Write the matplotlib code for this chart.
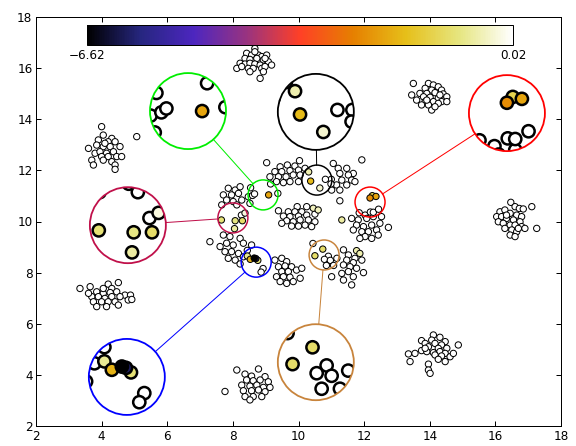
import numpy as np
import matplotlib
matplotlib.use("Agg")
import matplotlib.pyplot as plt
from matplotlib.patches import Circle, Ellipse
from matplotlib.lines import Line2D
from matplotlib.colors import Normalize
from matplotlib.cm import ScalarMappable

# ---------------- data ----------------
top_x = [8.67,8.42,8.57,8.78,8.88,9.03,8.37,8.52,8.73,8.93,9.08,8.22,8.37,8.52,8.67,8.83,9.18,8.12,8.27,8.47,8.62,8.88,8.98,8.52,8.93,8.83,8.67,8.98]
top_y = [16.77,16.58,16.51,16.51,16.45,16.51,16.38,16.34,16.38,16.32,16.25,16.19,16.16,16.19,16.16,16.12,16.12,15.99,16.06,15.99,15.99,15.99,16.06,15.86,15.86,15.60,16.64,16.38]

topright_x = [13.50,13.96,14.11,14.26,13.86,14.06,14.36,13.70,13.91,14.16,14.41,13.45,13.81,14.01,14.26,14.52,13.60,13.86,14.11,14.36,13.75,13.96,14.26,14.52,14.06,14.16,13.91,14.31]
topright_y = [15.40,15.40,15.34,15.27,15.21,15.14,15.14,15.01,15.01,15.04,14.99,14.95,14.88,14.86,14.82,14.88,14.75,14.69,14.69,14.69,14.56,14.56,14.62,14.69,14.36,14.49,14.75,14.95]

upleft_x = [4.00,4.05,4.31,3.90,4.20,4.41,3.60,3.85,4.05,4.26,4.56,3.80,3.95,4.15,4.36,4.00,4.20,4.46,4.61,3.70,4.05,4.31,3.75,4.41,4.41,4.10,5.07]
upleft_y = [13.71,13.38,13.25,13.19,13.12,13.12,12.86,12.99,12.93,12.93,12.93,12.67,12.73,12.67,12.73,12.54,12.54,12.54,12.54,12.40,12.40,12.34,12.21,12.21,12.04,13.06,13.32]

left_x = [3.34,3.65,4.20,4.51,4.31,3.85,4.05,4.26,4.46,4.71,4.88,3.70,3.90,4.10,4.31,4.56,4.81,3.75,4.00,4.20,4.41,3.85,4.15,4.51,4.92,4.05,3.60]
left_y = [7.38,7.45,7.55,7.61,7.38,7.25,7.19,7.22,7.25,7.12,7.12,7.06,7.06,6.99,7.06,7.06,6.93,6.86,6.86,6.86,6.86,6.67,6.67,6.73,6.95,7.38,7.19]

right_x = [16.47,16.60,16.73,16.85,17.11,16.14,16.29,16.45,16.65,16.80,16.04,16.19,16.34,16.55,16.75,16.09,16.24,16.45,16.60,16.80,16.90,16.29,16.50,16.65,16.45,16.60,17.26,16.34,16.70]
right_y = [10.75,10.58,10.51,10.49,10.58,10.38,10.45,10.32,10.25,10.19,10.19,10.19,10.12,10.06,9.99,9.99,9.93,9.86,9.86,9.80,9.73,9.73,9.67,9.60,9.47,9.41,9.73,10.25,9.73]

botright_x = [14.11,14.31,13.75,14.06,14.47,13.86,14.16,14.36,14.87,13.96,14.26,14.52,13.75,13.91,14.11,14.31,14.47,13.35,13.55,14.16,14.36,14.62,14.26,14.47,13.40,13.96,13.96,14.01,14.72,13.86]
botright_y = [5.56,5.47,5.34,5.36,5.30,5.23,5.23,5.17,5.17,5.10,5.04,5.04,4.95,4.91,4.87,4.91,4.84,4.82,4.84,4.78,4.74,4.71,4.61,4.52,4.52,4.42,4.19,4.06,4.84,5.04]

bottom_x = [8.12,8.78,8.37,8.57,8.98,8.42,8.62,8.83,9.08,8.27,8.52,8.73,8.93,9.13,8.32,8.57,8.78,8.98,8.37,8.62,8.88,8.52,7.76]
bottom_y = [4.19,4.23,4.03,3.95,3.93,3.80,3.77,3.80,3.73,3.60,3.56,3.60,3.51,3.51,3.38,3.38,3.41,3.34,3.15,3.15,3.15,3.02,3.35]

# central ring of clusters (x, y, value)
ring_x = [
    9.03,9.44,9.66,10.03,9.89,9.28,9.49,9.74,10.00,10.20,9.13,9.39,9.62,9.84,10.05,9.33,9.54,9.74,10.00,9.15,9.37,
    11.06,11.21,11.47,11.67,11.26,11.52,11.32,11.62,11.16,11.47,11.72,11.26,11.01,11.26,11.93,11.00,10.99,
    10.31,10.37,10.82,10.65,
    7.86,8.07,8.22,7.71,7.96,8.17,7.81,8.01,8.27,8.47,7.66,8.12,8.52,8.37,8.26,8.60,8.66,8.54,
    9.09,
    7.65,8.07,8.29,8.05,
    7.30,7.71,7.91,8.22,7.61,7.81,8.01,8.32,8.57,7.76,7.96,8.17,7.86,8.07,8.32,8.22,
    8.44,8.53,8.65,8.70,8.76,8.92,8.86,8.44,
    9.28,9.49,9.64,9.39,9.59,9.79,9.49,9.69,9.94,9.33,9.54,9.74,9.44,9.64,9.84,10.10,10.05,
    10.74,10.50,10.91,10.79,10.97,10.85,11.17,11.07,10.44,
    11.77,11.87,11.37,11.52,11.72,11.47,11.67,11.93,11.37,11.57,11.77,11.52,11.32,11.67,11.98,11.37,11.62,11.01,
    11.32,12.03,11.62,11.82,12.08,12.28,12.53,11.77,11.98,12.23,12.48,12.74,11.67,11.93,12.13,12.38,12.03,12.23,11.87,12.43,
    12.18,12.25,12.36,12.19,12.28,12.44,11.85,
    9.96,10.25,10.45,10.60,9.39,9.69,9.89,10.10,9.54,9.74,10.00,10.25,10.50,9.64,9.84,10.05,10.30,10.50,9.79,10.00,10.20,9.49,10.40,
]
ring_y = [
    12.30,12.14,12.21,12.38,12.17,11.95,11.95,11.99,12.01,12.08,11.75,11.75,11.75,11.82,11.82,11.56,11.52,11.56,11.56,11.47,11.10,
    12.27,12.08,12.08,11.88,11.88,11.82,11.62,11.62,11.43,11.43,11.56,11.23,11.23,10.81,12.41,11.65,11.47,
    11.94,11.58,11.65,11.31,
    11.30,11.23,11.36,11.04,11.04,11.10,10.84,10.78,10.84,10.97,10.65,10.65,10.71,10.33,10.25,11.02,11.08,11.32,
    11.04,
    10.06,10.03,10.03,9.72,
    9.21,9.47,9.41,9.34,9.02,9.15,9.08,9.15,9.08,8.82,8.82,8.75,8.56,8.49,8.62,8.34,
    8.65,8.52,8.57,8.55,8.48,8.16,8.02,8.87,
    8.49,8.56,8.43,8.23,8.26,8.23,8.04,8.04,8.10,7.84,7.84,7.82,7.65,7.58,7.65,8.17,7.78,
    8.92,8.66,8.64,8.52,8.48,8.28,8.56,8.28,9.14,
    8.86,8.75,8.89,8.69,8.56,8.49,8.39,8.49,8.30,8.23,8.17,8.04,7.97,7.84,8.00,7.71,7.52,7.84,
    10.06,10.25,10.12,10.06,10.12,10.19,10.19,9.86,9.80,9.86,9.93,9.77,9.67,9.60,9.60,9.67,9.41,9.34,9.34,9.47,
    10.92,11.01,10.98,10.37,10.36,10.48,10.34,
    10.58,10.58,10.52,10.45,10.42,10.38,10.38,10.38,10.21,10.19,10.21,10.25,10.29,10.03,9.99,10.06,10.06,9.99,9.82,9.82,9.86,9.93,9.80,
]
ring_v = (
    [0]*21 +
    [0]*17 +
    [-0.5,-1.7,0,-0.3] +
    [0]*13 + [-0.2,0,0,0,0] +
    [-2.0] +
    [-0.9,-0.8,-1.0,-0.6] +
    [0]*16 +
    [-0.7,-1.8,-6.62,-6.0,-0.9,0,0,0] +
    [0]*17 +
    [-1.0,-1.0,0,0,0,0,0,0,0] +
    [-0.5,-0.5] + [0]*16 +
    [-0.6] + [0]*19 +
    [-2.3,-1.2,-2.0,0,0,0,0] +
    [0,0,-0.4,-0.4] + [0]*19
)

vmin, vmax = -6.62, 0.02

# zoom regions (data centre) and colours
zoom_x = [8.92, 10.56, 12.18, 8.00, 8.71, 10.78]
zoom_y = [11.04, 11.62, 10.76, 10.14, 8.41, 8.69]
zoom_colors = ["#00ee00", "black", "red", "#c0104a", "blue", "#c8843c"]
# inset centres in axes fraction (layout)
inset_fx = [0.2895, 0.533, 0.897, 0.175, 0.173, 0.533]
inset_fy = [0.770, 0.768, 0.765, 0.491, 0.120, 0.156]

# ---------------- assemble ----------------
outer_x = top_x + topright_x + upleft_x + left_x + right_x + botright_x + bottom_x
outer_y = top_y + topright_y + upleft_y + left_y + right_y + botright_y + bottom_y
x = np.array(outer_x + ring_x)
y = np.array(outer_y + ring_y)
v = np.array([0.0]*len(outer_x) + list(ring_v))
order = np.argsort(-v, kind="stable")
x, y, v = x[order], y[order], v[order]

cmap = plt.get_cmap("CMRmap")
norm = Normalize(vmin, vmax)

W, H = 576, 446
fig = plt.figure(figsize=(W/72, H/72), dpi=72)
fig.patch.set_facecolor("white")
AX_L, AX_B, AX_W, AX_H = 36, 20, 525, 409
ax = fig.add_axes([AX_L/W, AX_B/H, AX_W/W, AX_H/H])
ax.set_xlim(2, 18)
ax.set_ylim(2, 18)
ax.set_xticks(np.arange(2, 19, 2))
ax.set_yticks(np.arange(2, 19, 2))
ax.tick_params(direction="in", top=True, right=True, labelsize=12, length=5, width=1)
for s in ax.spines.values():
    s.set_linewidth(1)

ax.scatter(x, y, c=v, cmap=cmap, norm=norm, s=40, edgecolors="black", linewidths=1, zorder=2)

sx = AX_W / 16.0
sy = AX_H / 16.0
r_small, r_big = 15.0, 38.0
mag = r_big / r_small

for cx, cy, col, fx, fy in zip(zoom_x, zoom_y, zoom_colors, inset_fx, inset_fy):
    ax.add_patch(Ellipse((cx, cy), 2*r_small/sx, 2*r_small/sy, fill=False, ec=col, lw=1.5, zorder=3))
    bx = AX_L + fx*AX_W
    by = AX_B + fy*AX_H
    iax = fig.add_axes([(bx-r_big)/W, (by-r_big)/H, 2*r_big/W, 2*r_big/H])
    hx = r_big/(sx*mag)
    hy = r_big/(sy*mag)
    iax.set_xlim(cx-hx, cx+hx)
    iax.set_ylim(cy-hy, cy+hy)
    iax.axis("off")
    bg = Circle((0.5, 0.5), 0.5, transform=iax.transAxes, fc="white", ec="none")
    iax.add_patch(bg)
    sc = iax.scatter(x, y, c=v, cmap=cmap, norm=norm, s=150, edgecolors="black", linewidths=2.5, zorder=2)
    sc.set_clip_path(bg)
    iax.add_patch(Circle((0.5, 0.5), 0.5, transform=iax.transAxes, fill=False, ec=col, lw=1.8, zorder=3, clip_on=False))
    # connector
    S = np.array([AX_L + (cx-2)*sx, AX_B + (cy-2)*sy])
    B = np.array([bx, by])
    d = (B - S) / np.hypot(*(B - S))
    p0 = S + r_small*d
    p1 = B - r_big*d
    fig.add_artist(Line2D([p0[0]/W, p1[0]/W], [p0[1]/H, p1[1]/H], transform=fig.transFigure, color=col, lw=1))

# colour bar
cax = fig.add_axes([87/W, 1-45/H, 426/W, 20/H])
sm = ScalarMappable(norm=norm, cmap=cmap)
cb = fig.colorbar(sm, cax=cax, orientation="horizontal", ticks=[vmin, vmax])
cb.ax.set_xticklabels(["\u22126.62", "0.02"])
cb.ax.tick_params(labelsize=12, length=0, pad=4)
cb.outline.set_linewidth(1)

fig.savefig("out.png", dpi=72, facecolor="white")
